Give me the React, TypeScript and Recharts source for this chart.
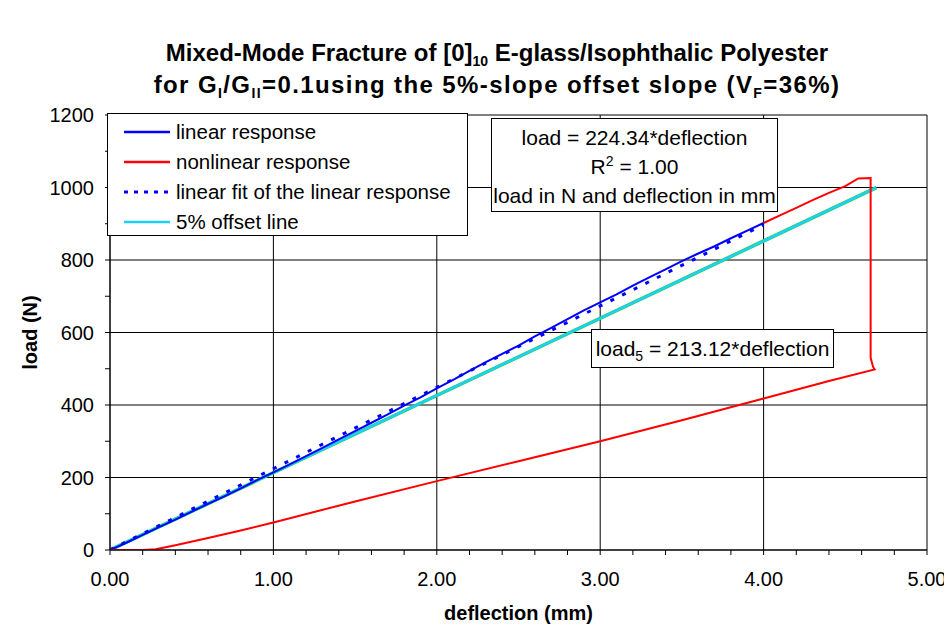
import React from 'react';
import { LineChart, Line, XAxis, YAxis, CartesianGrid, Legend } from 'recharts';

// deflection (mm) / load (N)
const linearX = [0, 0.1, 0.2, 0.3, 0.4, 0.5, 0.6, 0.7, 0.8, 0.9, 1.0, 1.1, 1.2, 1.3, 1.4, 1.5, 1.6, 1.7, 1.8, 1.9, 2.0, 2.1, 2.2, 2.3, 2.4, 2.5, 2.6, 2.7, 2.8, 2.9, 3.0, 3.1, 3.2, 3.3, 3.4, 3.5, 3.6, 3.7, 3.8, 3.9, 4.0];
const linearLoad = [0, 20, 42, 63, 84, 106, 127, 148, 170, 193, 214, 236, 259, 282, 305, 328, 351, 374, 398, 421, 446, 469, 494, 518, 541, 564, 589, 613, 637, 661, 683, 705, 729, 752, 774, 797, 818, 838, 860, 881, 902];

const fitX = [0, 4.0];
const fitLoad = [0, 897.4];

const nonlinearX = [4.0, 4.1, 4.2, 4.3, 4.4, 4.5, 4.58, 4.655, 4.655, 4.67, 4.68, 4.4, 4.0, 3.5, 3.0, 2.5, 2.0, 1.5, 1.0, 0.8, 0.6, 0.4, 0.28, 0.2, 0];
const nonlinearLoad = [902, 923, 944, 965, 985, 1004, 1025, 1026, 530, 505, 498, 466, 418, 358, 300, 245, 190, 134, 76, 54, 33, 13, 2, 0, 0];

const offsetX = [0, 4.69];
const offsetLoad = [0, 999.5];

const xTicks = [0, 0.2, 0.4, 0.6, 0.8, 1, 1.2, 1.4, 1.6, 1.8, 2, 2.2, 2.4, 2.6, 2.8, 3, 3.2, 3.4, 3.6, 3.8, 4, 4.2, 4.4, 4.6, 4.8, 5];
const yTicks = [0, 100, 200, 300, 400, 500, 600, 700, 800, 900, 1000, 1100, 1200];
const xMajor = [0, 1, 2, 3, 4, 5];
const yMajor = [0, 200, 400, 600, 800, 1000, 1200];

const legendItems = [
  { name: 'linear response', color: '#0000ff', dash: undefined },
  { name: 'nonlinear response', color: '#ff0000', dash: undefined },
  { name: 'linear fit of the linear response', color: '#0000ff', dash: '4 6' },
  { name: '5% offset line', color: '#1fd0f5', dash: undefined },
];

const toPoints = (xs: number[], ys: number[]) => xs.map((x, i) => ({ x, y: ys[i] }));

const linearData = toPoints(linearX, linearLoad);
const fitData = toPoints(fitX, fitLoad);
const nonlinearData = toPoints(nonlinearX, nonlinearLoad);
const offsetData = toPoints(offsetX, offsetLoad);

const FONT = '"Liberation Sans", Arial, sans-serif';

const XTick = (props: any) => {
  const { x, y, payload } = props;
  if (!xMajor.some((m) => Math.abs(m - payload.value) < 1e-6)) return null;
  return (
    <text x={x} y={y} dy="0.71em" textAnchor="middle" fontFamily={FONT} fontSize={20} fill="#000">
      {payload.value.toFixed(2)}
    </text>
  );
};

const YTick = (props: any) => {
  const { x, y, payload } = props;
  if (!yMajor.includes(payload.value)) return null;
  return (
    <text x={x} y={y} dy="0.35em" textAnchor="end" fontFamily={FONT} fontSize={20} fill="#000">
      {payload.value}
    </text>
  );
};

const LegendBox = () => (
  <div
    style={{
      border: '1px solid #000',
      background: '#fff',
      width: 361,
      height: 123,
      boxSizing: 'border-box',
      paddingTop: 3,
      fontFamily: FONT,
      fontSize: 20.5,
      color: '#000',
      textAlign: 'left',
    }}
  >
    {legendItems.map((it) => (
      <div key={it.name} style={{ display: 'flex', alignItems: 'center', height: 30 }}>
        <svg width={66} height={10}>
          <line
            x1={16}
            x2={62}
            y1={5}
            y2={5}
            stroke={it.color}
            strokeWidth={it.dash ? 3 : 2.5}
            strokeDasharray={it.dash}
          />
        </svg>
        <span style={{ marginLeft: 2 }}>{it.name}</span>
      </div>
    ))}
  </div>
);

const boxStyle: React.CSSProperties = {
  position: 'absolute',
  border: '1px solid #000',
  background: '#fff',
  boxSizing: 'border-box',
  fontFamily: FONT,
  fontSize: 21,
  textAlign: 'center',
  color: '#000',
  whiteSpace: 'nowrap',
};

const subStyle: React.CSSProperties = { fontSize: 14, verticalAlign: '-5px', lineHeight: 0 };

export default function App() {
  return (
    <div style={{ position: 'relative', width: 944, height: 623, background: '#fff', fontFamily: FONT }}>
      <div
        style={{
          position: 'absolute',
          left: 0,
          width: 978,
          top: 29,
          textAlign: 'center',
          fontWeight: 'bold',
          fontSize: 24,
          lineHeight: '32px',
          color: '#000',
          zIndex: 2,
        }}
      >
        <div>
          Mixed-Mode Fracture of [0]<sub style={subStyle}>10</sub> E-glass/Isophthalic Polyester
        </div>
        <div style={{ letterSpacing: 1.4 }}>
          for G<sub style={subStyle}>I</sub>/G<sub style={subStyle}>II</sub>=0.1using the 5%-slope offset slope (V
          <sub style={subStyle}>F</sub>=36%)
        </div>
      </div>

      <LineChart width={944} height={623} margin={{ top: 107, right: 25, bottom: 41, left: 0 }}>
        <CartesianGrid
          stroke="#000"
          strokeWidth={1}
          horizontalValues={yMajor}
          verticalValues={xMajor}
          fill="#fff"
        />
        <XAxis
          type="number"
          dataKey="x"
          domain={[0, 5]}
          ticks={xTicks}
          interval={0}
          tick={<XTick />}
          tickSize={5}
          tickMargin={17}
          height={40}
          stroke="#000"
          allowDataOverflow
          label={{ value: 'deflection (mm)', position: 'insideBottom', offset: -30, fontFamily: FONT, fontSize: 20, fontWeight: 'bold', fill: '#000' }}
        />
        <YAxis
          type="number"
          dataKey="y"
          domain={[0, 1200]}
          ticks={yTicks}
          interval={0}
          tick={<YTick />}
          tickSize={5}
          tickMargin={11}
          width={102}
          stroke="#000"
          allowDataOverflow
          label={{ value: 'load (N)', angle: -90, position: 'insideLeft', offset: 22, fontFamily: FONT, fontSize: 20, fontWeight: 'bold', fill: '#000', style: { textAnchor: 'middle' } }}
        />
        <Legend
          layout="horizontal"
          verticalAlign="middle"
          align="center"
          content={<LegendBox />}
          wrapperStyle={{ position: 'absolute', left: 99, top: 105, width: 361, height: 123, bottom: 'auto', right: 'auto' }}
        />
        <Line data={offsetData} dataKey="y" name="trend" stroke="#22cc44" strokeWidth={3.5} dot={false} isAnimationActive={false} legendType="none" />
        <Line data={offsetData} dataKey="y" name="5% offset line" stroke="#1fd0f5" strokeWidth={2.5} dot={false} isAnimationActive={false} />
        <Line data={linearData} dataKey="y" name="linear response" stroke="#0000ff" strokeWidth={2} dot={false} isAnimationActive={false} />
        <Line data={fitData} dataKey="y" name="linear fit of the linear response" stroke="#0000ff" strokeWidth={3} strokeDasharray="4 9" dot={false} isAnimationActive={false} />
        <Line data={nonlinearData} dataKey="y" name="nonlinear response" stroke="#ff0000" strokeWidth={2} dot={false} isAnimationActive={false} />
      </LineChart>

      <div style={{ ...boxStyle, left: 483, top: 110, width: 287, height: 94, lineHeight: '29px', paddingTop: 4 }}>
        <div>load = 224.34*deflection</div>
        <div>
          R<sup style={{ fontSize: 14, verticalAlign: '8px', lineHeight: 0 }}>2</sup> = 1.00
        </div>
        <div>load in N and deflection in mm</div>
      </div>

      <div style={{ ...boxStyle, left: 583, top: 321, width: 243, height: 39, lineHeight: '37px' }}>
        load<sub style={subStyle}>5</sub> = 213.12*deflection
      </div>
    </div>
  );
}
